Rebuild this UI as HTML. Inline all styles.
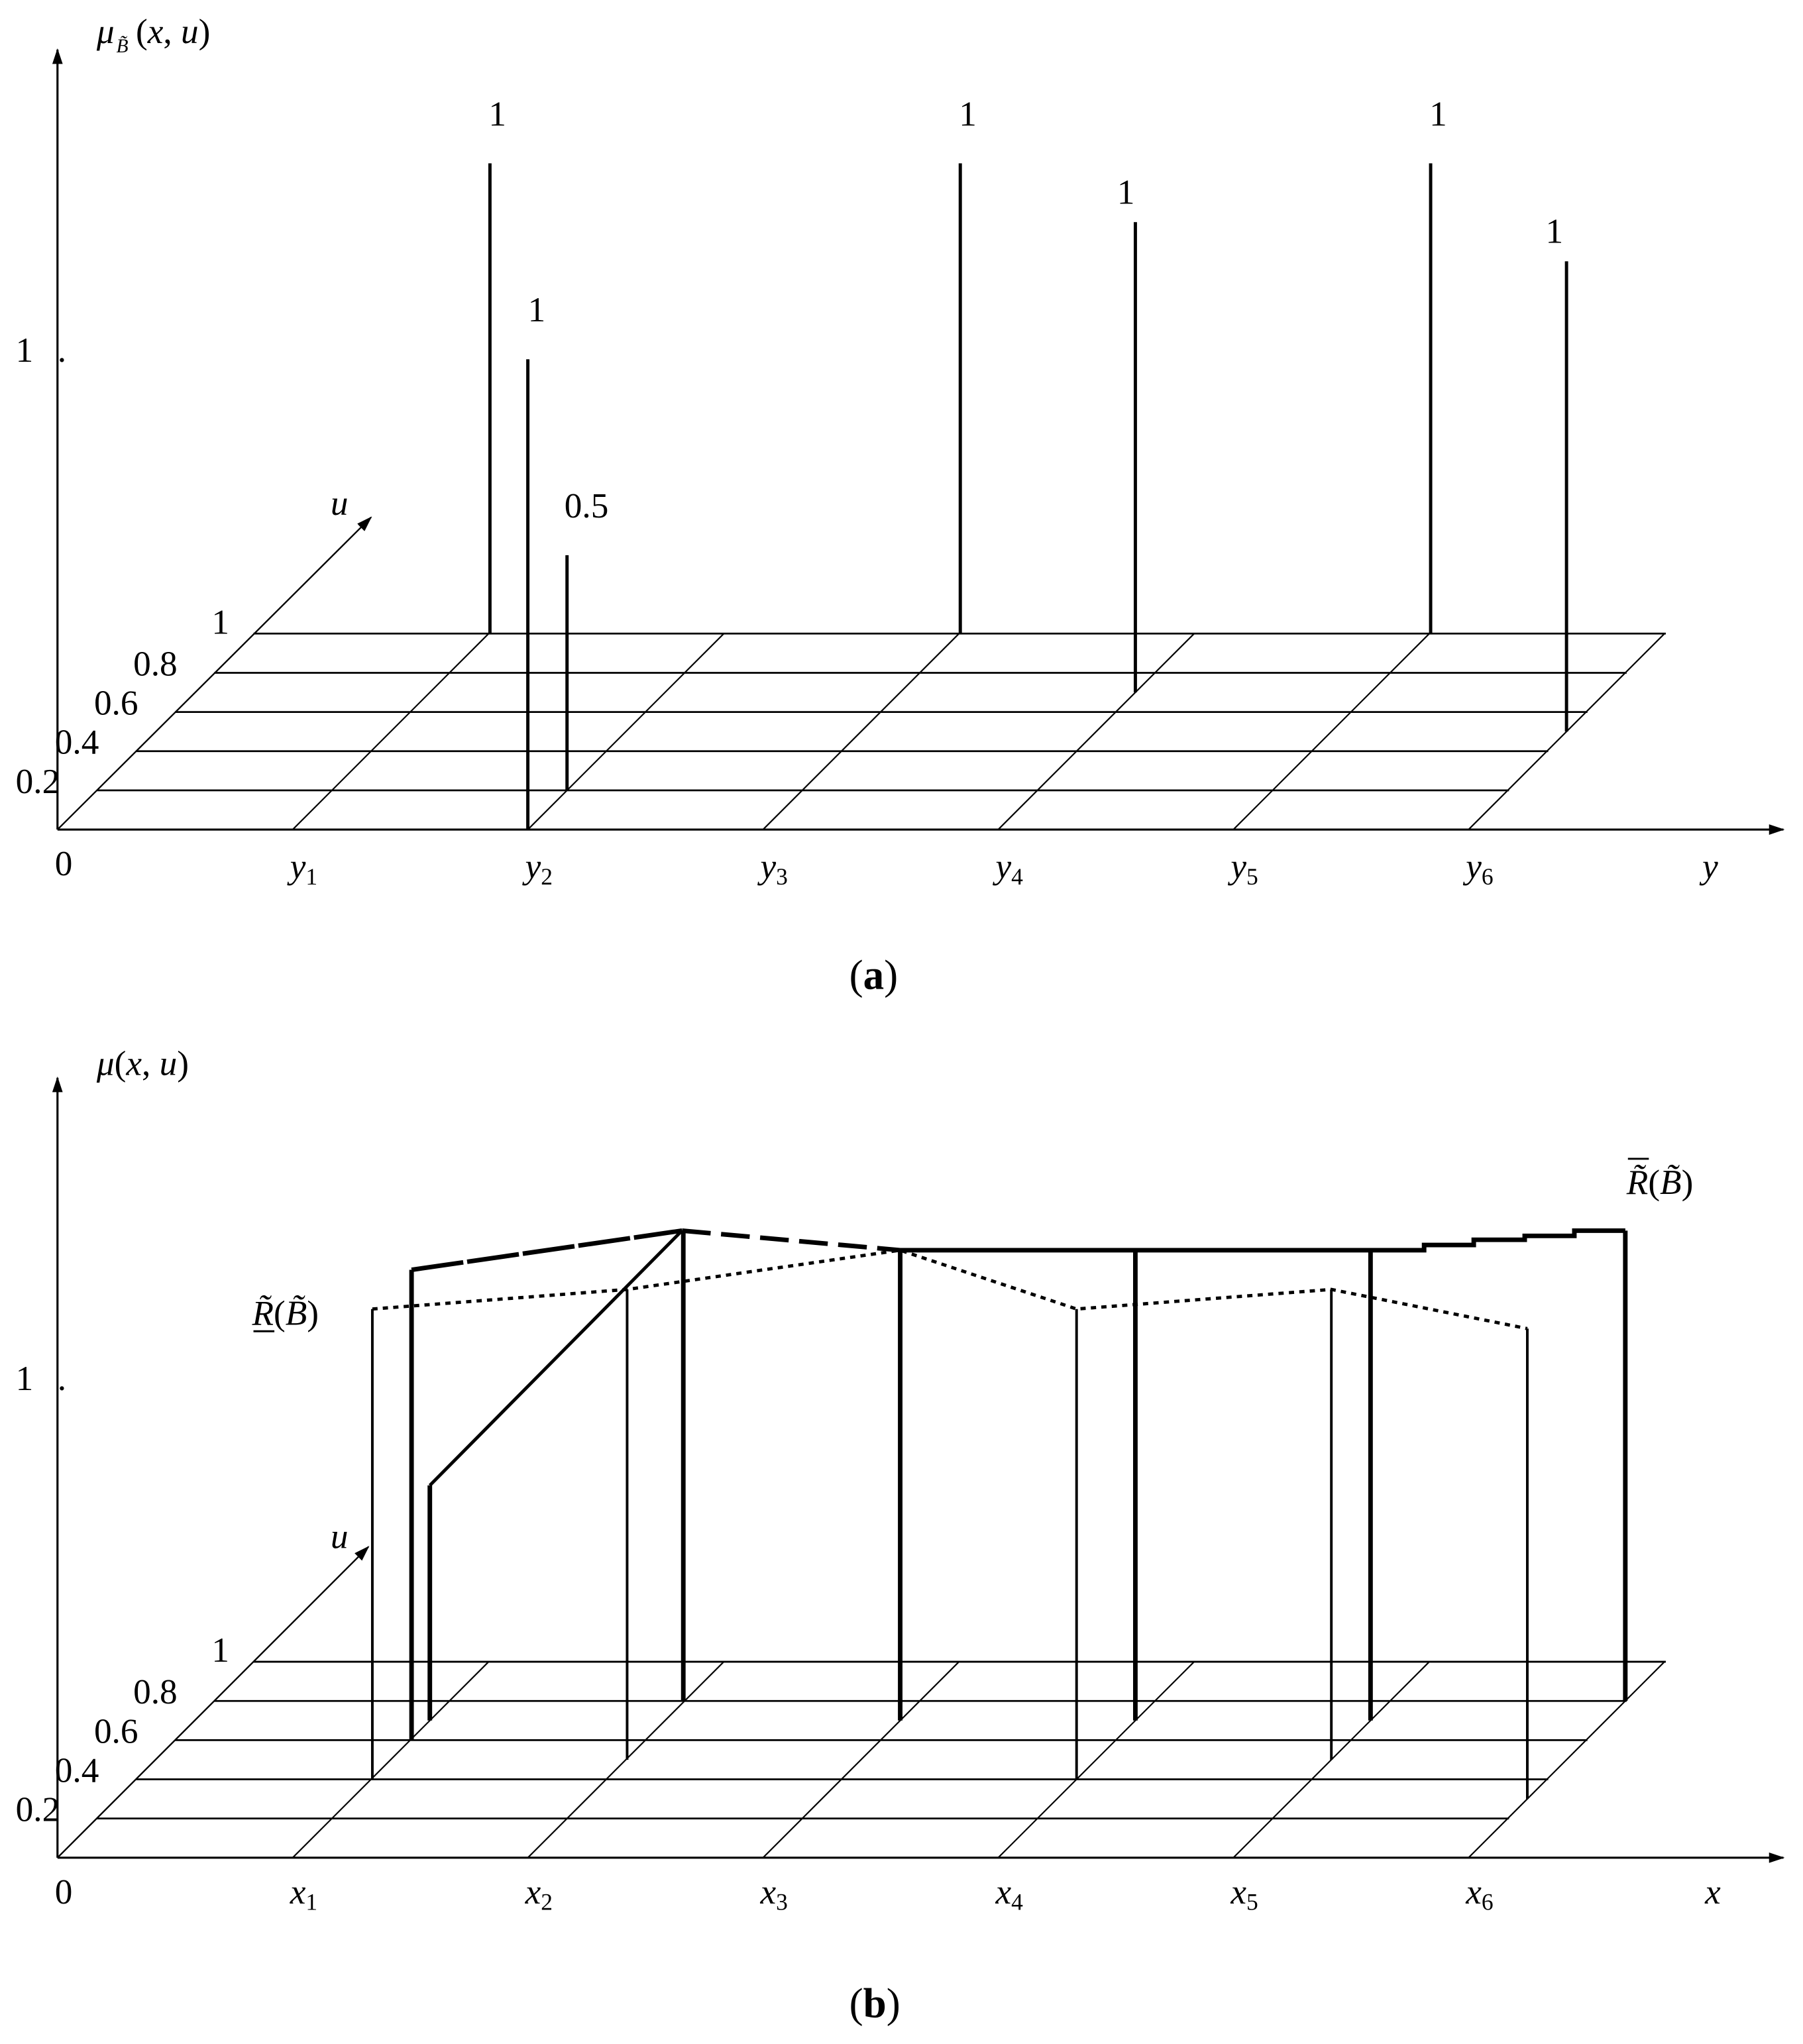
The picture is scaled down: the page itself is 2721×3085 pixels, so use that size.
<!DOCTYPE html>
<html><head><meta charset="utf-8"><style>
html,body{margin:0;padding:0;background:#fff}
svg{display:block}
text{font-family:"Liberation Serif",serif;fill:#000}
.it{font-style:italic}
</style></head><body>
<svg width="2721" height="3085" viewBox="0 0 1380 1564.6" preserveAspectRatio="none" xmlns="http://www.w3.org/2000/svg">
<defs>
<marker id="ar" markerWidth="12" markerHeight="8" refX="11" refY="4" orient="auto" markerUnits="userSpaceOnUse"><path d="M0,0 L12,4 L0,8 z" fill="#000"/></marker>
</defs>
<g id="A" stroke="#000" fill="none">
<line x1="44" y1="635" x2="44" y2="38" stroke-width="1.6" marker-end="url(#ar)"/>
<line x1="44" y1="635" x2="1365" y2="635" stroke-width="1.6" marker-end="url(#ar)"/>
<line x1="74" y1="605" x2="1155" y2="605" stroke-width="1.4"/>
<line x1="104" y1="575" x2="1185" y2="575" stroke-width="1.4"/>
<line x1="134" y1="545" x2="1215" y2="545" stroke-width="1.4"/>
<line x1="164" y1="515" x2="1245" y2="515" stroke-width="1.4"/>
<line x1="194" y1="485" x2="1275" y2="485" stroke-width="1.4"/>
<line x1="44" y1="635" x2="284" y2="396" stroke-width="1.2" marker-end="url(#ar)"/>
<line x1="224" y1="635" x2="374" y2="485" stroke-width="1.1"/>
<line x1="404" y1="635" x2="554" y2="485" stroke-width="1.1"/>
<line x1="584" y1="635" x2="734" y2="485" stroke-width="1.1"/>
<line x1="764" y1="635" x2="914" y2="485" stroke-width="1.1"/>
<line x1="944" y1="635" x2="1094" y2="485" stroke-width="1.1"/>
<line x1="1124" y1="635" x2="1274" y2="485" stroke-width="1.1"/>
</g>
<g stroke="#000" stroke-width="2.5">
<line x1="375" y1="485" x2="375" y2="125"/>
<line x1="404" y1="635" x2="404" y2="275"/>
<line x1="434" y1="605" x2="434" y2="425"/>
<line x1="735" y1="485" x2="735" y2="125"/>
<line x1="869" y1="530" x2="869" y2="170"/>
<line x1="1095" y1="485" x2="1095" y2="125"/>
<line x1="1199" y1="560" x2="1199" y2="200"/>
</g>
<g font-size="27">
<text x="374" y="96">1</text><text x="404" y="246">1</text><text x="432" y="396">0.5</text>
<text x="734" y="96">1</text><text x="855" y="156">1</text><text x="1094" y="96">1</text><text x="1183" y="186">1</text>
<text x="12" y="277">1</text><text x="44" y="277">.</text>
<text x="162" y="485">1</text><text x="102" y="517">0.8</text><text x="72" y="547">0.6</text><text x="42" y="577">0.4</text><text x="12" y="607">0.2</text>
<text x="42" y="670">0</text>
<text class="it" x="253" y="394">u</text>
<text class="it" x="74" y="33">μ</text><text class="it" x="89" y="40" font-size="15">B̃</text><text x="104" y="33">(<tspan class="it">x</tspan>, <tspan class="it">u</tspan>)</text>
<text class="it" x="222" y="672">y<tspan font-size="18" dy="5" font-style="normal">1</tspan></text>
<text class="it" x="402" y="672">y<tspan font-size="18" dy="5" font-style="normal">2</tspan></text>
<text class="it" x="582" y="672">y<tspan font-size="18" dy="5" font-style="normal">3</tspan></text>
<text class="it" x="762" y="672">y<tspan font-size="18" dy="5" font-style="normal">4</tspan></text>
<text class="it" x="942" y="672">y<tspan font-size="18" dy="5" font-style="normal">5</tspan></text>
<text class="it" x="1122" y="672">y<tspan font-size="18" dy="5" font-style="normal">6</tspan></text>
<text class="it" x="1303" y="672">y</text>
<text x="650" y="757" font-size="32">(<tspan font-weight="bold">a</tspan>)</text>
</g>

<g transform="translate(0,787)">
<g stroke="#000" fill="none">
<line x1="44" y1="635" x2="44" y2="38" stroke-width="1.6" marker-end="url(#ar)"/>
<line x1="44" y1="635" x2="1365" y2="635" stroke-width="1.6" marker-end="url(#ar)"/>
<line x1="74" y1="605" x2="1155" y2="605" stroke-width="1.4"/>
<line x1="104" y1="575" x2="1185" y2="575" stroke-width="1.4"/>
<line x1="134" y1="545" x2="1215" y2="545" stroke-width="1.4"/>
<line x1="164" y1="515" x2="1245" y2="515" stroke-width="1.4"/>
<line x1="194" y1="485" x2="1275" y2="485" stroke-width="1.4"/>
<line x1="44" y1="635" x2="282" y2="397" stroke-width="1.2" marker-end="url(#ar)"/>
<line x1="224" y1="635" x2="374" y2="485" stroke-width="1.1"/>
<line x1="404" y1="635" x2="554" y2="485" stroke-width="1.1"/>
<line x1="584" y1="635" x2="734" y2="485" stroke-width="1.1"/>
<line x1="764" y1="635" x2="914" y2="485" stroke-width="1.1"/>
<line x1="944" y1="635" x2="1094" y2="485" stroke-width="1.1"/>
<line x1="1124" y1="635" x2="1274" y2="485" stroke-width="1.1"/>
</g>
<g stroke="#000" stroke-width="2" fill="none">
<line x1="285" y1="575" x2="285" y2="215"/>
<line x1="480" y1="560" x2="480" y2="200"/>
<line x1="824" y1="575" x2="824" y2="215"/>
<line x1="1019" y1="560" x2="1019" y2="200"/>
<line x1="1169" y1="590" x2="1169" y2="230"/>
<polyline points="285,215 480,200 689,170 824,215 1019,200 1169,230" stroke-width="2.5" stroke-dasharray="4,4"/>
</g>
<g stroke="#000" stroke-width="3.5" fill="none">
<line x1="315" y1="545" x2="315" y2="185"/>
<line x1="329" y1="530" x2="329" y2="350"/>
<line x1="523" y1="515" x2="523" y2="155"/>
<line x1="689" y1="530" x2="689" y2="170"/>
<line x1="869" y1="530" x2="869" y2="170"/>
<line x1="1049" y1="530" x2="1049" y2="170"/>
<line x1="1244" y1="515" x2="1244" y2="155"/>
<polyline points="315,185 522,155" stroke-dasharray="40,3"/>
<polyline points="522,155 689,170" stroke-dasharray="22,8"/>
<line x1="329" y1="350" x2="522" y2="155" stroke-width="2.5"/>
<polyline points="689,170 1090,170 1090,166 1128,166 1128,162 1167,162 1167,159 1205,159 1205,155 1244,155"/>
</g>
<g font-size="27">
<text x="12" y="277">1</text><text x="44" y="277">.</text>
<text x="162" y="485">1</text><text x="102" y="517">0.8</text><text x="72" y="547">0.6</text><text x="42" y="577">0.4</text><text x="12" y="607">0.2</text>
<text x="42" y="670">0</text>
<text class="it" x="253" y="398">u</text>
<text x="74" y="36"><tspan class="it">μ</tspan>(<tspan class="it">x</tspan>, <tspan class="it">u</tspan>)</text>
<text class="it" x="222" y="670">x<tspan font-size="18" dy="5" font-style="normal">1</tspan></text>
<text class="it" x="402" y="670">x<tspan font-size="18" dy="5" font-style="normal">2</tspan></text>
<text class="it" x="582" y="670">x<tspan font-size="18" dy="5" font-style="normal">3</tspan></text>
<text class="it" x="762" y="670">x<tspan font-size="18" dy="5" font-style="normal">4</tspan></text>
<text class="it" x="942" y="670">x<tspan font-size="18" dy="5" font-style="normal">5</tspan></text>
<text class="it" x="1122" y="670">x<tspan font-size="18" dy="5" font-style="normal">6</tspan></text>
<text class="it" x="1305" y="670">x</text>
<text x="193" y="227"><tspan class="it">R̃</tspan>(<tspan class="it">B̃</tspan>)</text>
<line x1="194" y1="232" x2="210" y2="232" stroke="#000" stroke-width="1.5"/>
<text x="1245" y="127"><tspan class="it">R̃</tspan>(<tspan class="it">B̃</tspan>)</text>
<line x1="1246" y1="100" x2="1262" y2="100" stroke="#000" stroke-width="1.5"/>
<text x="650" y="757" font-size="32">(<tspan font-weight="bold">b</tspan>)</text>
</g>
</g>
</svg>
</body></html>
